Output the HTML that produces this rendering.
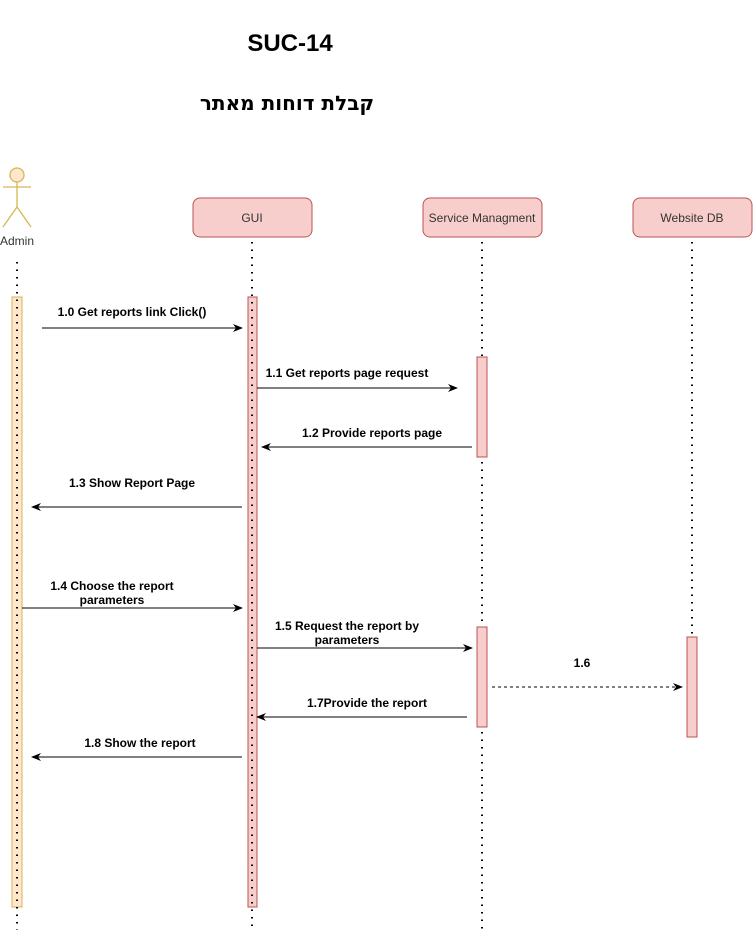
<!DOCTYPE html>
<html><head><meta charset="utf-8"><style>
html,body{margin:0;padding:0;background:#fff;}
svg{display:block;font-family:"Liberation Sans",sans-serif;}
.lbl{font-size:12px;font-weight:bold;fill:#000;text-anchor:middle;}
.box{fill:#f8cecc;stroke:#b85450;stroke-width:1;}
.ll{stroke:#000;stroke-width:2;stroke-dasharray:1.5 6;fill:none;}
.msg{stroke:#000;stroke-width:1;fill:none;}
</style></head><body>
<svg width="753" height="930" viewBox="0 0 753 930" xmlns="http://www.w3.org/2000/svg">
<defs><marker id="a" markerWidth="10" markerHeight="8" refX="9" refY="4" orient="auto" markerUnits="userSpaceOnUse"><path d="M0,0 L10,4 L0,8 L3,4 Z" fill="#000"/></marker></defs>
<text x="290" y="51" font-size="24" font-weight="bold" text-anchor="middle">SUC-14</text>
<text x="287" y="110" font-size="20" font-weight="bold" text-anchor="middle" font-family="'DejaVu Sans',sans-serif" direction="rtl">קבלת דוחות מאתר</text>
<g stroke="#d6b656" stroke-width="1.3" fill="none">
<circle cx="17" cy="175" r="7" fill="#ffe6cc"/>
<line x1="17" y1="182" x2="17" y2="207"/>
<line x1="3" y1="187" x2="31" y2="187"/>
<line x1="17" y1="207" x2="3" y2="227"/>
<line x1="17" y1="207" x2="31" y2="227"/>
</g>
<text x="17" y="245" font-size="12" text-anchor="middle" fill="#333">Admin</text>
<rect class="box" x="193" y="198" width="119" height="39" rx="7"/>
<text x="252" y="222" font-size="12" text-anchor="middle" fill="#333">GUI</text>
<rect class="box" x="423" y="198" width="119" height="39" rx="7"/>
<text x="482" y="222" font-size="12" text-anchor="middle" fill="#333">Service Managment</text>
<rect class="box" x="633" y="198" width="119" height="39" rx="7"/>
<text x="692" y="222" font-size="12" text-anchor="middle" fill="#333">Website DB</text>
<rect x="12" y="297" width="10" height="610" fill="#ffe6cc" stroke="#d6b656"/>
<rect x="248" y="297" width="9" height="610" class="box"/>
<rect x="477" y="357" width="10" height="100" class="box"/>
<rect x="477" y="627" width="10" height="100" class="box"/>
<rect x="687" y="637" width="10" height="100" class="box"/>
<line class="ll" x1="17" y1="262" x2="17" y2="930"/>
<line class="ll" x1="252" y1="242" x2="252" y2="930"/>
<line class="ll" x1="482" y1="242" x2="482" y2="357"/>
<line class="ll" x1="482" y1="462" x2="482" y2="627"/>
<line class="ll" x1="482" y1="732" x2="482" y2="930"/>
<line class="ll" x1="692" y1="242" x2="692" y2="637"/>
<line class="msg" x1="42" y1="328" x2="242" y2="328" marker-end="url(#a)"/>
<text class="lbl" x="132" y="316">1.0 Get reports link Click()</text>
<line class="msg" x1="257" y1="388" x2="457" y2="388" marker-end="url(#a)"/>
<text class="lbl" x="347" y="377">1.1 Get reports page request</text>
<line class="msg" x1="472" y1="447" x2="262" y2="447" marker-end="url(#a)"/>
<text class="lbl" x="372" y="437">1.2 Provide reports page</text>
<line class="msg" x1="242" y1="507" x2="32" y2="507" marker-end="url(#a)"/>
<text class="lbl" x="132" y="487">1.3 Show Report Page</text>
<line class="msg" x1="22" y1="608" x2="242" y2="608" marker-end="url(#a)"/>
<text class="lbl" x="112" y="590">1.4 Choose the report</text>
<text class="lbl" x="112" y="604">parameters</text>
<line class="msg" x1="257" y1="648" x2="472" y2="648" marker-end="url(#a)"/>
<text class="lbl" x="347" y="630">1.5 Request the report by</text>
<text class="lbl" x="347" y="644">parameters</text>
<line class="msg" x1="492" y1="687" x2="682" y2="687" stroke-dasharray="3 3" marker-end="url(#a)"/>
<text class="lbl" x="582" y="667">1.6</text>
<line class="msg" x1="467" y1="717" x2="257" y2="717" marker-end="url(#a)"/>
<text class="lbl" x="367" y="707">1.7Provide the report</text>
<line class="msg" x1="242" y1="757" x2="32" y2="757" marker-end="url(#a)"/>
<text class="lbl" x="140" y="747">1.8 Show the report</text>
</svg>
</body></html>
